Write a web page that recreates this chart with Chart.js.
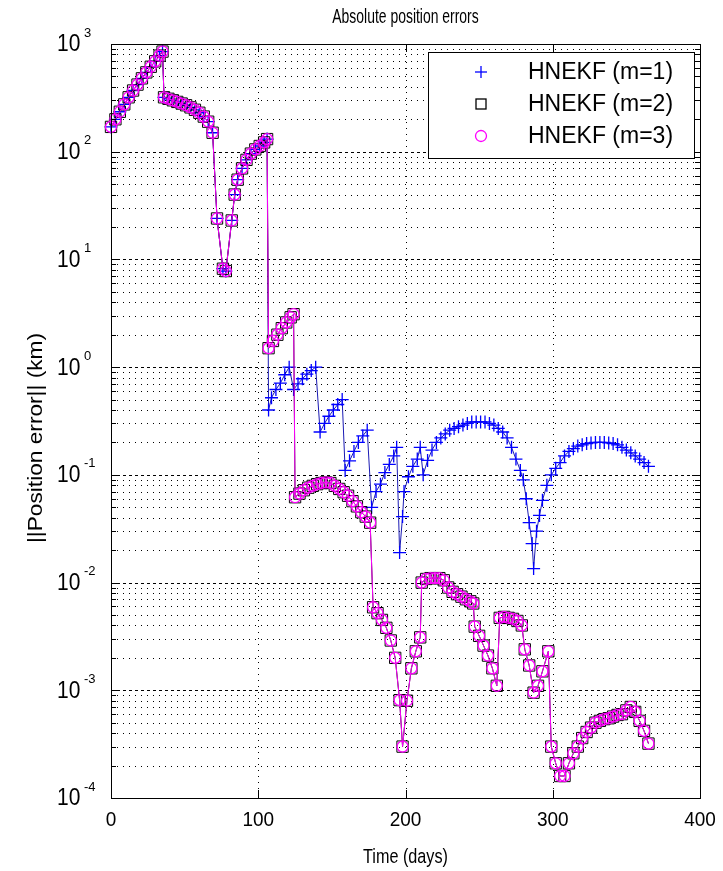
<!DOCTYPE html>
<html>
<head>
<meta charset="utf-8">
<title>Absolute position errors</title>
<script src="https://cdn.jsdelivr.net/npm/chart.js@4.4.0/dist/chart.umd.min.js"></script>
<style>
  html, body { margin: 0; padding: 0; background: #fff; }
  #wrap { width: 723px; height: 871px; }
</style>
</head>
<body>
<div id="wrap"><canvas id="chart" width="723" height="871"></canvas></div>
<script>
// Shared part: all three filters give the same error up to day 106
const daysEarly = [0, 3, 6, 9, 12, 15, 18, 21, 24, 27, 30, 33, 35,
    36, 39, 42, 45, 48, 51, 54, 57, 60, 63, 66, 69,
    72, 76, 78, 82,
    84, 86, 89, 92, 95, 98, 101, 104, 106];
const errEarly = [170, 200, 235, 275, 320, 370, 420, 480, 545, 615, 690, 780, 850,
    320, 310, 300, 290, 280, 270, 258, 245, 230, 212, 190, 150,
    24, 8.2, 7.8, 23,
    40, 55, 70, 84, 96, 105, 113, 122, 131];

// m=1 after day 106
const daysLateM1 = [107, 109, 112, 115, 118, 121,
    124, 127, 130, 133, 136, 139,
    142, 145, 148, 151, 154, 157,
    159, 162, 165, 168, 171, 174,
    177, 180, 183, 186, 189, 192, 194,
    196, 198, 199, 202, 205, 208, 210,
    212, 215, 218, 221, 224, 227, 230, 233, 236, 239, 242, 245, 248, 251, 254, 257,
    260, 263, 266, 269, 272, 275, 278, 280, 282, 284, 286, 287,
    289, 291, 293, 296, 299, 302, 305, 308, 311, 314, 317, 320, 323, 326, 329,
    332, 335, 338, 341, 344, 347, 350, 353, 356, 359, 362, 365];
const errLateM1 = [0.4, 0.52, 0.62, 0.71, 0.85, 1.0,
    0.62, 0.7, 0.78, 0.86, 0.93, 1.0,
    0.25, 0.3, 0.35, 0.4, 0.45, 0.5,
    0.11, 0.135, 0.165, 0.2, 0.23, 0.26,
    0.05, 0.07, 0.082, 0.105, 0.125, 0.15, 0.18,
    0.019, 0.041, 0.07, 0.096, 0.12, 0.14, 0.18,
    0.1, 0.136, 0.17, 0.2, 0.22, 0.24, 0.26, 0.27, 0.28, 0.29, 0.3, 0.31, 0.31, 0.31, 0.31, 0.3,
    0.29, 0.27, 0.25, 0.22, 0.18, 0.14, 0.11, 0.09, 0.06, 0.036, 0.023, 0.0135,
    0.03, 0.042, 0.058, 0.08, 0.1, 0.115, 0.13, 0.15, 0.165, 0.175, 0.185, 0.19, 0.195, 0.198, 0.2,
    0.2, 0.2, 0.198, 0.195, 0.19, 0.18, 0.17, 0.16, 0.15, 0.14, 0.13, 0.12];

// m=2 and m=3 after day 106 (the two curves lie on top of each other)
const daysLateM23 = [107, 110, 113, 116, 119, 122, 124,
    125, 128, 131, 134, 137, 140, 143, 146, 149, 152, 155, 158, 161, 164, 167, 170, 173, 176,
    178, 181, 184, 187, 190, 193, 196, 198, 201, 204, 207, 210,
    211, 214, 217, 220, 223, 226, 229, 232, 235, 238, 241, 244, 246,
    247, 250, 253, 256, 259, 262,
    264, 267, 270, 273, 276, 279,
    281, 284, 287, 290, 293, 297,
    299, 302, 305, 308, 311, 314, 317, 320, 323, 326, 329, 332, 335, 338, 341, 344,
    347, 350, 353, 356, 359, 362, 365];
const errLateM2 = [1.5, 1.75, 2.0, 2.3, 2.6, 2.9, 3.1,
    0.062, 0.067, 0.072, 0.076, 0.079, 0.082, 0.084, 0.085, 0.084, 0.079, 0.074, 0.069, 0.064, 0.057, 0.051, 0.045, 0.041, 0.036,
    0.0059, 0.0052, 0.0045, 0.0038, 0.0029, 0.0020, 0.00081, 0.0003, 0.0008, 0.0016, 0.0023, 0.0031,
    0.0100, 0.0108, 0.011, 0.011, 0.011, 0.0105, 0.009, 0.0082, 0.0078, 0.0074, 0.0070, 0.0067, 0.0064,
    0.0039, 0.0032, 0.0026, 0.0021, 0.0016, 0.0011,
    0.0047, 0.0048, 0.0047, 0.0046, 0.0044, 0.0040,
    0.0024, 0.0017, 0.00095, 0.0011, 0.0015, 0.0023,
    0.0003, 0.00021, 0.00016, 0.00016, 0.00021, 0.00026, 0.0003, 0.00036, 0.00041, 0.00045, 0.0005, 0.00052, 0.00054, 0.00055, 0.00057, 0.00059,
    0.0006, 0.00065, 0.0007, 0.00063, 0.00052, 0.00042, 0.00032];
const errLateM3 = errLateM2.slice();

const seriesNames = ['HNEKF (m=1)', 'HNEKF (m=2)', 'HNEKF (m=3)'];
const xTicks = [0, 100, 200, 300, 400];
const yExps = [-4, -3, -2, -1, 0, 1, 2, 3];

const FONT = '"Liberation Sans", Arial, Helvetica, sans-serif';
const BLUE_LINE = '#1a1ab4';
const BLUE = '#0000ff';
const MAGENTA = '#ff00ff';

function toPoints(days, vals) {
    return days.map((d, i) => ({ x: d, y: vals[i] }));
}

function text(ctx, s, x, y, size, opt = {}) {
    ctx.save();
    ctx.translate(x, y);
    if (opt.rot) ctx.rotate(opt.rot);
    ctx.scale(opt.sx || 1, opt.sy || 1);
    ctx.font = size + 'px ' + FONT;
    ctx.textAlign = opt.align || 'center';
    ctx.textBaseline = opt.base || 'middle';
    ctx.fillStyle = '#000';
    ctx.fillText(s, 0, 0);
    ctx.restore();
}

function line(ctx, x1, y1, x2, y2) {
    ctx.beginPath();
    ctx.moveTo(x1, y1);
    ctx.lineTo(x2, y2);
    ctx.stroke();
}

// MATLAB style axes: dotted grid, inward ticks, box, 10^n labels, legend
const matlabAxes = {
    id: 'matlabAxes',
    beforeDatasetsDraw(chart) {
        const { ctx, chartArea: a, scales: { x, y } } = chart;
        ctx.save();
        ctx.strokeStyle = '#000';
        ctx.lineWidth = 1;
        for (let e = yExps[0]; e < yExps[yExps.length - 1]; e++) {
            for (let m = 1; m <= 9; m++) {
                if (e === yExps[0] && m === 1) continue;
                const py = Math.round(y.getPixelForValue(m * Math.pow(10, e))) + 0.5;
                ctx.setLineDash(m === 1 ? [3, 3] : [1, 5]);
                line(ctx, a.left, py, a.right, py);
            }
        }
        ctx.setLineDash([1, 5]);
        xTicks.slice(1, -1).forEach(t => {
            const px = Math.round(x.getPixelForValue(t)) + 0.5;
            line(ctx, px, a.top, px, a.bottom);
        });
        ctx.restore();
    },
    afterDatasetsDraw(chart) {
        const { ctx, chartArea: a, scales: { x, y } } = chart;
        ctx.save();
        ctx.strokeStyle = '#000';
        ctx.lineWidth = 1;
        ctx.setLineDash([]);
        ctx.strokeRect(Math.round(a.left) + 0.5, Math.round(a.top) + 0.5,
            Math.round(a.right - a.left), Math.round(a.bottom - a.top));

        // y ticks, both sides
        for (let e = yExps[0]; e <= yExps[yExps.length - 1]; e++) {
            for (let m = 1; m <= 9; m++) {
                if (e === yExps[yExps.length - 1] && m > 1) break;
                const py = Math.round(y.getPixelForValue(m * Math.pow(10, e))) + 0.5;
                const len = m === 1 ? 8 : 5;
                line(ctx, a.left, py, a.left + len, py);
                line(ctx, a.right - len, py, a.right, py);
            }
        }
        xTicks.forEach(t => {
            const px = Math.round(x.getPixelForValue(t)) + 0.5;
            line(ctx, px, a.bottom, px, a.bottom - 8);
            line(ctx, px, a.top, px, a.top + 8);
        });

        // tick labels
        yExps.forEach(e => {
            const py = y.getPixelForValue(Math.pow(10, e));
            text(ctx, '10', 57, py + 1, 21, { align: 'left', sy: 1.1 });
            text(ctx, String(e), 84, py - 11, 13, { align: 'left' });
        });
        xTicks.forEach(t => {
            text(ctx, String(t), x.getPixelForValue(t), a.bottom + 22, 19, { sy: 1.1 });
        });

        // titles
        text(ctx, 'Absolute position errors', (a.left + a.right) / 2, 17, 17, { sx: 0.82, sy: 1.2 });
        text(ctx, 'Time (days)', (a.left + a.right) / 2, 857, 18, { sx: 0.9, sy: 1.15 });
        text(ctx, '||Position error|| (km)', 36, 438, 21, { rot: -Math.PI / 2, sx: 1.08 });

        // legend
        const lx = 428.5, ly = 52.5, lw = 266, lh = 106;
        ctx.fillStyle = '#fff';
        ctx.fillRect(lx, ly, lw, lh);
        ctx.strokeRect(lx, ly, lw, lh);
        const rows = [72, 104, 136];
        const mx = 481;
        ctx.lineWidth = 1.3;
        ctx.strokeStyle = BLUE;
        line(ctx, mx - 6, rows[0], mx + 6, rows[0]);
        line(ctx, mx, rows[0] - 6, mx, rows[0] + 6);
        ctx.strokeStyle = '#000';
        ctx.strokeRect(mx - 5, rows[1] - 5, 10, 10);
        ctx.strokeStyle = MAGENTA;
        ctx.beginPath();
        ctx.arc(mx, rows[2], 5.5, 0, Math.PI * 2);
        ctx.stroke();
        seriesNames.forEach((n, i) => text(ctx, n, 528, rows[i] + 1, 23, { align: 'left' }));
        ctx.restore();
    }
};

const ctx = document.getElementById('chart').getContext('2d');

new Chart(ctx, {
    type: 'line',
    data: {
        datasets: [
            {
                label: seriesNames[2],
                data: toPoints(daysEarly.concat(daysLateM23), errEarly.concat(errLateM3)),
                borderColor: MAGENTA,
                borderWidth: 1,
                pointStyle: 'circle',
                pointRadius: 5.5,
                pointBorderColor: MAGENTA,
                pointBackgroundColor: 'rgba(0,0,0,0)',
                pointBorderWidth: 1.3,
                order: 0
            },
            {
                label: seriesNames[1],
                data: toPoints(daysEarly.concat(daysLateM23), errEarly.concat(errLateM2)),
                borderColor: '#000',
                borderWidth: 1,
                pointStyle: 'rect',
                pointRadius: 8,
                pointBorderColor: '#000',
                pointBackgroundColor: 'rgba(0,0,0,0)',
                pointBorderWidth: 1,
                order: 1
            },
            {
                label: seriesNames[0],
                data: toPoints(daysEarly.concat(daysLateM1), errEarly.concat(errLateM1)),
                borderColor: BLUE_LINE,
                borderWidth: 1,
                pointStyle: 'cross',
                pointRadius: 6.5,
                pointBorderColor: BLUE,
                pointBorderWidth: 1.3,
                order: 2
            }
        ]
    },
    options: {
        responsive: false,
        animation: false,
        devicePixelRatio: 1,
        clip: 10,
        layout: { padding: { left: 111, right: 23, top: 44, bottom: 73 } },
        scales: {
            x: { type: 'linear', min: 0, max: 400, display: false },
            y: { type: 'logarithmic', min: 1e-4, max: 1e3, display: false }
        },
        elements: { line: { tension: 0 } },
        plugins: {
            legend: { display: false },
            title: { display: false },
            tooltip: { enabled: false }
        }
    },
    plugins: [matlabAxes]
});
</script>
</body>
</html>
